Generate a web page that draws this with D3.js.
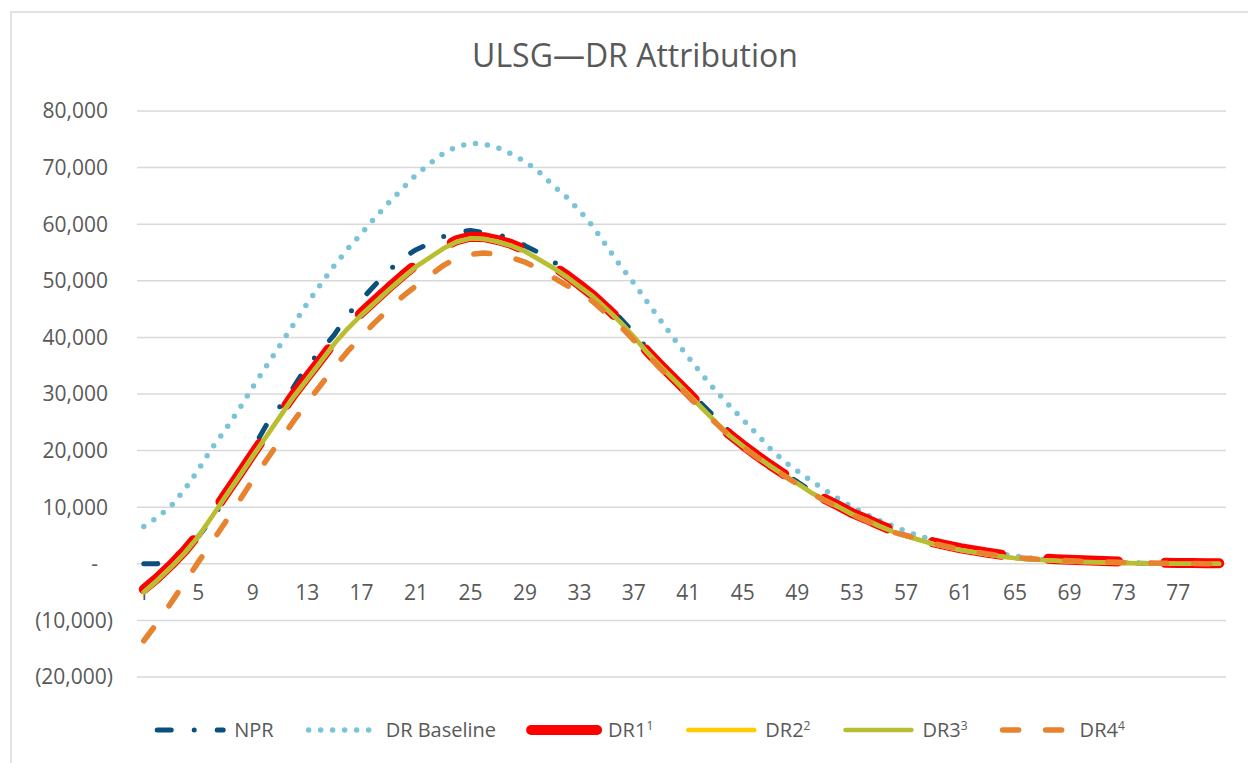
<!DOCTYPE html>
<html>
<head>
<meta charset="utf-8">
<script src="https://cdn.jsdelivr.net/npm/d3@7"></script>
<style>
  body { margin: 0; background: #fff; }
  text { font-family: "Open Sans", sans-serif; fill: #595959; }
</style>
</head>
<body>
<svg id="chart" width="1248" height="763"></svg>
<script>
// categories (periods 1..80) and the ticks shown on the axes
var periods = d3.range(1, 81);
var xTickLabels = [1, 5, 9, 13, 17, 21, 25, 29, 33, 37, 41, 45, 49, 53, 57, 61, 65, 69, 73, 77];
var yTicks = [-20000, -10000, 0, 10000, 20000, 30000, 40000, 50000, 60000, 70000, 80000];

var npr = [0, 0, 800, 2700, 4800, 7900, 11700, 16000, 20300, 24500,
  27800, 31200, 35000, 37600, 40500, 44000, 46700, 49300, 51800, 54000,
  55500, 56600, 57800, 58600, 58900, 58500, 58100, 57600, 56200, 55000,
  53700, 51300, 49300, 47700, 45600, 43400, 40800, 38000, 35500, 33000,
  30600, 28200, 25800, 23400, 21200, 19400, 17600, 16000, 14500, 12900,
  11500, 10200, 8900, 7900, 6800, 5800, 5000, 4300, 3600, 3000,
  2500, 2100, 1700, 1350, 1050, 850, 680, 540, 430, 340,
  270, 210, 160, 110, 70, 40, 20, 10, 0, 0];

var drBaseline = [6600, 8200, 10200, 13100, 16600, 20400, 23700, 27300, 31200, 34900,
  38600, 42300, 46000, 49400, 52700, 55700, 58400, 61200, 63800, 66300,
  68700, 70700, 72500, 73700, 74300, 74150, 73500, 72400, 71100, 69300,
  67000, 64900, 62400, 59600, 56100, 52700, 49600, 46200, 42900, 39600,
  36500, 33500, 30600, 28000, 25500, 23000, 20400, 18200, 16400, 14700,
  13100, 11500, 10100, 8800, 7700, 6700, 5700, 4900, 4200, 3600,
  3000, 2500, 2100, 1700, 1400, 1050, 800, 650, 520, 420,
  330, 260, 200, 150, 100, 60, 30, 10, 0, 0];

var dr1 = [-4500, -2500, -200, 2300, 5200, 8700, 12300, 15800, 19400, 22900,
  26400, 29900, 33000, 36100, 39300, 42000, 44400, 46600, 48800, 50900,
  52900, 54500, 56000, 57200, 57800, 57700, 57200, 56500, 55500, 54100,
  52700, 51100, 49300, 47400, 45200, 42900, 40300, 37500, 35000, 32600,
  30200, 27700, 25300, 22900, 21000, 19200, 17500, 15900, 14400, 12800,
  11500, 10300, 9000, 8000, 6900, 5900, 5100, 4500, 3800, 3250,
  2750, 2350, 1950, 1600, 1300, 1100, 950, 820, 720, 620,
  530, 450, 380, 300, 250, 200, 150, 120, 100, 100];

var dr2 = [-5000, -2900, -600, 1900, 4800, 8300, 11900, 15400, 19000, 22500,
  26000, 29500, 32600, 35700, 38900, 41600, 44000, 46200, 48400, 50500,
  52500, 54100, 55700, 56900, 57500, 57400, 56900, 56200, 55200, 53800,
  52400, 50800, 49000, 47200, 45000, 42700, 40100, 37300, 34800, 32400,
  30000, 27500, 25100, 22700, 20800, 19000, 17300, 15700, 14200, 12600,
  11300, 10100, 8800, 7800, 6700, 5700, 4900, 4200, 3500, 2950,
  2450, 2050, 1650, 1300, 1000, 820, 650, 520, 420, 330,
  260, 200, 150, 100, 70, 40, 20, 10, 0, 0];

var dr3 = [-5000, -2900, -600, 1900, 4800, 8300, 11900, 15400, 19000, 22500,
  26000, 29500, 32600, 35700, 38900, 41600, 44000, 46200, 48400, 50500,
  52500, 54100, 55700, 56900, 57500, 57400, 56900, 56200, 55200, 53800,
  52400, 50800, 49000, 47200, 45000, 42700, 40100, 37300, 34800, 32400,
  30000, 27500, 25100, 22700, 20800, 19000, 17300, 15700, 14200, 12600,
  11300, 10100, 8800, 7800, 6700, 5700, 4900, 4200, 3500, 2950,
  2450, 2050, 1650, 1300, 1000, 820, 650, 520, 420, 330,
  260, 200, 150, 100, 70, 40, 20, 10, 0, 0];

var dr4 = [-13600, -10400, -6900, -3300, 300, 3800, 7400, 11100, 14800, 18300,
  21800, 25200, 28500, 31600, 34700, 37600, 40200, 42700, 45000, 47200,
  49100, 50900, 52700, 54000, 54700, 54900, 54700, 54100, 53300, 52200,
  50700, 49300, 47900, 46300, 44200, 42000, 39500, 36900, 34400, 32000,
  29700, 27200, 24900, 22600, 20600, 18900, 17200, 15600, 14100, 12500,
  11200, 10000, 8700, 7700, 6600, 5600, 5000, 4300, 3600, 3050,
  2550, 2150, 1750, 1400, 1100, 930, 770, 650, 550, 450,
  380, 310, 250, 190, 140, 100, 70, 50, 30, 20];

// styles for each series, in drawing order
var series = [
  {name: "NPR", sup: "", values: npr, color: "#0B4F7C", width: 5, dash: "14,23,0,23"},
  {name: "DR Baseline", sup: "", values: drBaseline, color: "#7BC4D8", width: 5.5, dash: "0,12"},
  {name: "DR1", sup: "1", values: dr1, color: "#FF0000", width: 10, dash: "70,47"},
  {name: "DR2", sup: "2", values: dr2, color: "#FFCC00", width: 4.5, dash: null},
  {name: "DR3", sup: "3", values: dr3, color: "#B7BE35", width: 4.5, dash: null},
  {name: "DR4", sup: "4", values: dr4, color: "#E7822F", width: 5.5, dash: "16,27"}
];

var svg = d3.select("#chart");

// chart area border
svg.append("rect")
    .attr("x", 11).attr("y", 12)
    .attr("width", 1300).attr("height", 800)
    .attr("fill", "#fff")
    .attr("stroke", "#D9D9D9")
    .attr("stroke-width", 1.5);

var x = d3.scalePoint()
    .domain(periods)
    .range([137, 1226])
    .padding(0.5);

var y = d3.scaleLinear()
    .domain([-20000, 80000])
    .range([677, 111]);

// title
svg.append("text")
    .attr("x", 635).attr("y", 67)
    .attr("text-anchor", "middle")
    .style("font-size", "32px")
    .text("ULSG\u2014DR Attribution");

// gridlines
svg.append("g").selectAll("line")
    .data(yTicks)
  .enter().append("line")
    .attr("x1", 137).attr("x2", 1226)
    .attr("y1", function(d) { return y(d); })
    .attr("y2", function(d) { return y(d); })
    .attr("stroke", "#D9D9D9")
    .attr("stroke-width", 1.5);

// y labels, accounting style
var fmt = d3.format(",");
svg.append("g").selectAll("text")
    .data(yTicks)
  .enter().append("text")
    .attr("x", function(d) { return d < 0 ? 113 : (d === 0 ? 98 : 108); })
    .attr("y", function(d) { return y(d); })
    .attr("dy", "0.35em")
    .attr("text-anchor", "end")
    .style("font-size", "21px")
    .text(function(d) {
      if (d === 0) return "-";
      return d < 0 ? "(" + fmt(-d) + ")" : fmt(d);
    });

// x labels, next to the zero line
svg.append("g").selectAll("text")
    .data(xTickLabels)
  .enter().append("text")
    .attr("x", function(d) { return x(d); })
    .attr("y", y(0) + 29)
    .attr("dy", "0.35em")
    .attr("text-anchor", "middle")
    .style("font-size", "21px")
    .text(function(d) { return d; });

var line = d3.line()
    .x(function(d, i) { return x(periods[i]); })
    .y(function(d) { return y(d); });

svg.append("g").selectAll("path")
    .data(series)
  .enter().append("path")
    .attr("d", function(s) { return line(s.values); })
    .attr("fill", "none")
    .attr("stroke", function(s) { return s.color; })
    .attr("stroke-width", function(s) { return s.width; })
    .attr("stroke-dasharray", function(s) { return s.dash; })
    .attr("stroke-linecap", "round")
    .attr("stroke-linejoin", "round");

// legend
var legend = svg.append("g");
var sampleLen = 70, textGap = 9, itemGap = 33, legendY = 730;
var cursor = 0;
series.forEach(function(s) {
  var g = legend.append("g").attr("transform", "translate(" + cursor + ",0)");
  g.append("line")
      .attr("x1", 2).attr("x2", sampleLen - 2)
      .attr("y1", legendY).attr("y2", legendY)
      .attr("stroke", s.color)
      .attr("stroke-width", s.width)
      .attr("stroke-dasharray", s.dash)
      .attr("stroke-linecap", "round");
  var t = g.append("text")
      .attr("x", sampleLen + textGap)
      .attr("y", legendY)
      .attr("dy", "0.35em")
      .style("font-size", "20px")
      .text(s.name);
  if (s.sup) {
    t.append("tspan")
        .attr("dy", "-0.55em")
        .style("font-size", "12px")
        .text(s.sup);
  }
  cursor += sampleLen + textGap + t.node().getComputedTextLength() + itemGap;
});
var total = cursor - itemGap;
legend.attr("transform", "translate(" + (640 - total / 2) + ",0)");
</script>
</body>
</html>
